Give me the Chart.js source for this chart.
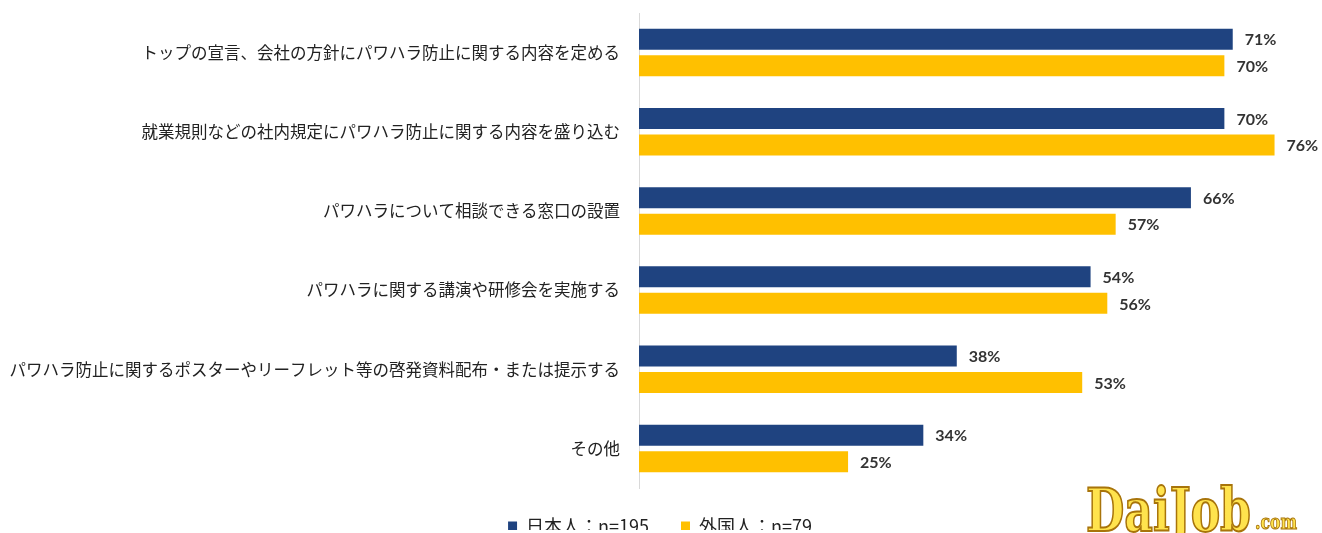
<!DOCTYPE html>
<html lang="ja">
<head>
<meta charset="utf-8">
<title>パワハラ防止の取り組み</title>
<script src="https://cdn.jsdelivr.net/npm/chart.js@4.4.1/dist/chart.umd.min.js"></script>
<style>
    html, body { margin: 0; padding: 0; background: #fff; }
    #wrap { width: 1322px; height: 533px; position: relative; }
</style>
</head>
<body>
<div id="wrap"><canvas id="harassChart"></canvas></div>
<script>
var categories = [
    "トップの宣言、会社の方針にパワハラ防止に関する内容を定める",
    "就業規則などの社内規定にパワハラ防止に関する内容を盛り込む",
    "パワハラについて相談できる窓口の設置",
    "パワハラに関する講演や研修会を実施する",
    "パワハラ防止に関するポスターやリーフレット等の啓発資料配布・または提示する",
    "その他"
];
var japaneseValues = [71, 70, 66, 54, 38, 34];
var foreignValues = [70, 76, 57, 56, 53, 25];
var seriesNames = ["日本人：n=195", "外国人：n=79"];

var NAVY = "#1F4380";
var GOLD = "#FFC000";
var CJK = "'Noto Sans CJK JP', 'Noto Sans', sans-serif";

// percent labels to the right of each bar
var valueLabels = {
    id: "valueLabels",
    afterDatasetsDraw: function (chart) {
        var ctx = chart.ctx;
        ctx.save();
        ctx.font = "bold 16px Lato, 'Open Sans', sans-serif";
        ctx.fillStyle = "#333333";
        ctx.textAlign = "left";
        ctx.textBaseline = "middle";
        chart.data.datasets.forEach(function (ds, di) {
            chart.getDatasetMeta(di).data.forEach(function (bar, i) {
                ctx.fillText(ds.data[i] + "%", bar.x + 12, bar.y + 1);
            });
        });
        ctx.restore();
    }
};

// nudge the legend, the sheet cuts it at the bottom
var legendShift = {
    id: "legendShift",
    afterLayout: function (chart) {
        var lg = chart.legend;
        if (!lg) return;
        lg.left += 6; lg.right += 6;
        lg.top -= 3; lg.bottom -= 3;
    }
};

// site logo at bottom right
var logo = {
    id: "logo",
    afterDraw: function (chart) {
        var ctx = chart.ctx;
        ctx.save();
        var g = ctx.createLinearGradient(0, 484, 0, 533);
        g.addColorStop(0, "#FFE34D");
        g.addColorStop(1, "#D99A00");
        ctx.fillStyle = g;
        ctx.strokeStyle = "#A8740A";
        ctx.textBaseline = "alphabetic";

        ctx.font = "bold 60px 'DejaVu Serif', serif";
        var w = ctx.measureText("DaiJob").width;
        ctx.save();
        ctx.translate(1086, 531);
        ctx.scale(165 / w, 1);
        ctx.lineWidth = 2;
        ctx.fillText("DaiJob", 0, 0);
        ctx.strokeText("DaiJob", 0, 0);
        ctx.restore();

        ctx.font = "bold 20px 'DejaVu Serif', serif";
        var w2 = ctx.measureText(".com").width;
        ctx.save();
        ctx.translate(1255, 529);
        ctx.scale(42 / w2, 1);
        ctx.lineWidth = 1;
        ctx.fillText(".com", 0, 0);
        ctx.strokeText(".com", 0, 0);
        ctx.restore();
        ctx.restore();
    }
};

new Chart(document.getElementById("harassChart"), {
    type: "bar",
    data: {
        labels: categories,
        datasets: [
            {
                label: seriesNames[0],
                data: japaneseValues,
                backgroundColor: NAVY,
                categoryPercentage: 0.67,
                barPercentage: 0.79
            },
            {
                label: seriesNames[1],
                data: foreignValues,
                backgroundColor: GOLD,
                categoryPercentage: 0.67,
                barPercentage: 0.79
            }
        ]
    },
    options: {
        indexAxis: "y",
        responsive: true,
        maintainAspectRatio: false,
        animation: false,
        layout: { padding: { top: 13, right: 14, left: 0, bottom: 0 } },
        scales: {
            x: {
                display: false,
                min: 0,
                max: 80
            },
            y: {
                grid: { display: false, drawTicks: false },
                border: { display: true, color: "#D9D9D9", width: 1 },
                ticks: {
                    color: "#222222",
                    padding: 19,
                    font: { family: CJK, size: 16.5 }
                },
                afterFit: function (scale) {
                    scale.width = 639;
                    scale.paddingTop = 0;
                    scale.paddingBottom = 0;
                }
            }
        },
        plugins: {
            legend: {
                position: "bottom",
                maxHeight: 45,
                labels: {
                    boxWidth: 9,
                    boxHeight: 9,
                    padding: 32,
                    color: "#222222",
                    font: { family: CJK, size: 18 }
                }
            },
            tooltip: { enabled: false }
        }
    },
    plugins: [valueLabels, legendShift, logo]
});
</script>
</body>
</html>
